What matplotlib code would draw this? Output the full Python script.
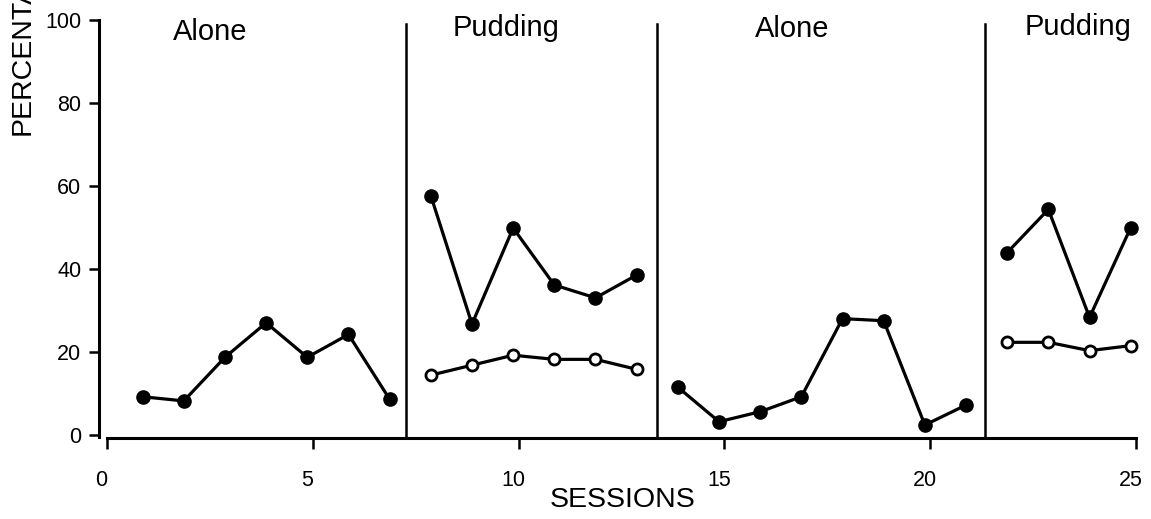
import matplotlib
matplotlib.use("Agg")
import matplotlib.pyplot as plt
from matplotlib.ticker import FixedLocator

plt.rcParams['font.family'] = ['Liberation Sans', 'DejaVu Sans']

# Sessions and percentages per phase
alone1_sessions = [1, 2, 3, 4, 5, 6, 7]
alone1_values = [9.2, 8.2, 18.7, 27.0, 18.7, 24.2, 8.6]

pudding1_sessions = [8, 9, 10, 11, 12, 13]
pudding1_filled = [57.6, 26.7, 49.8, 36.1, 33.0, 38.5]
pudding1_open = [14.4, 16.8, 19.2, 18.2, 18.2, 15.8]

alone2_sessions = [14, 15, 16, 17, 18, 19, 20, 21]
alone2_values = [11.5, 3.2, 5.6, 9.2, 28.0, 27.5, 2.4, 7.2]

pudding2_sessions = [22, 23, 24, 25]
pudding2_filled = [43.9, 54.3, 28.3, 49.9]
pudding2_open = [22.3, 22.3, 20.3, 21.5]

phase_changes = [7.4, 13.5, 21.45]
phase_names = ["Alone", "Pudding", "Alone", "Pudding"]
phase_label_x = [2.65, 9.83, 16.78, 23.71]
phase_label_y = [95.1, 96.0, 95.8, 96.3]

x_ticks = [0, 5, 10, 15, 20, 25]
y_ticks = [0, 20, 40, 60, 80, 100]

W, H = 1151, 519
fig = plt.figure(figsize=(W / 100, H / 100), dpi=100)
ax = fig.add_axes([99.4 / W, (H - 438.3) / H, (1141.0 - 99.4) / W, (438.3 - 19.5) / H])
ax.set_xlim(-0.05, 25.25)
ax.set_ylim(-0.8, 100)

line_kw = dict(color='black', lw=2.3, solid_joinstyle='round')
filled_kw = dict(marker='o', markersize=9.5, markerfacecolor='black', markeredgecolor='black')
open_kw = dict(marker='o', markersize=8, markerfacecolor='white', markeredgecolor='black',
               markeredgewidth=2.0)

ax.plot(alone1_sessions, alone1_values, **line_kw, **filled_kw)
ax.plot(pudding1_sessions, pudding1_filled, **line_kw, **filled_kw)
ax.plot(pudding1_sessions, pudding1_open, **line_kw, **open_kw)
ax.plot(alone2_sessions, alone2_values, **line_kw, **filled_kw)
ax.plot(pudding2_sessions, pudding2_filled, **line_kw, **filled_kw)
ax.plot(pudding2_sessions, pudding2_open, **line_kw, **open_kw)

# Phase-change lines
for xc in phase_changes:
    ax.plot([xc, xc], [-0.8, 98.8], color='black', lw=1.8)

for name, xl, yl in zip(phase_names, phase_label_x, phase_label_y):
    ax.text(xl, yl, name, ha='center', va='baseline', fontsize=21)

# Axes styling: open L-shaped frame
for side in ('top', 'right'):
    ax.spines[side].set_visible(False)
ax.spines['left'].set_linewidth(2.2)
ax.spines['bottom'].set_linewidth(2.2)
ax.spines['left'].set_bounds(-0.6, 100)
ax.spines['bottom'].set_bounds(0.13, 25.13)

ax.set_yticks(y_ticks)
ax.set_yticklabels([str(v) for v in y_ticks])
ax.tick_params(axis='y', direction='out', length=7, width=1.8, pad=6, labelsize=15.5)

# Labels sit on the session numbers; tick marks sit slightly to the right
ax.set_xticks(x_ticks)
ax.set_xticklabels([str(v) for v in x_ticks])
ax.xaxis.set_minor_locator(FixedLocator([v + 0.13 for v in x_ticks]))
ax.tick_params(axis='x', which='major', length=0, pad=23, labelsize=15.5)
ax.tick_params(axis='x', which='minor', direction='out', length=8, width=1.8)

fig.text(623 / W, (H - 500) / H, "SESSIONS", ha='center', va='center', fontsize=20.5)
fig.text(23 / W, (H - 135) / H, "PERCENTAGE", ha='center', va='bottom', rotation=90, fontsize=20.5)

fig.savefig("out.png", dpi=100, facecolor='white')
